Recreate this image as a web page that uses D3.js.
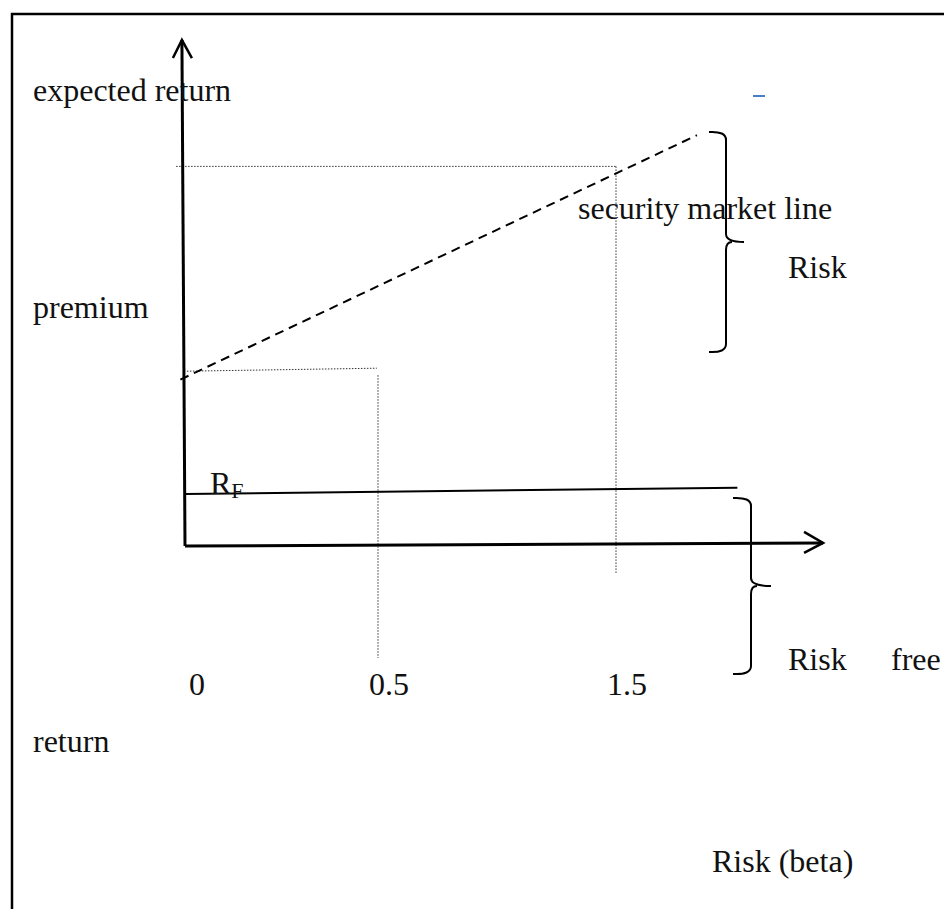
<!DOCTYPE html>
<html>
<head>
<meta charset="utf-8">
<script src="https://cdn.jsdelivr.net/npm/d3@7"></script>
<style>
  body { margin: 0; background: #fff; }
  svg { display: block; }
  text { font-family: "Liberation Serif", "Times New Roman", serif; fill: #111; }
</style>
</head>
<body>
<svg width="944" height="909"></svg>
<script>
// beta values and labels on the horizontal axis
var betas = [0, 0.5, 1.5];
var betaLabels = ["0", "0.5", "1.5"];
// expected return read at each marked beta (arbitrary units)
var returnsAtBeta = [3.4, 7.3];
var riskFree = [1.0, 1.12];        // start / end of the R_F line
var smlBeta = [-0.012, 1.84];      // dashed security market line
var smlReturn = [3.2, 7.9];
var axisEnd = { beta: 2.37, ret: 9.73 };

var svg = d3.select("svg");

// the sketch is not evenly spaced, so a piecewise scale
var x = d3.scaleLinear().domain([0, 0.5, 1.5]).range([185, 378, 616]);
var y = d3.scaleLinear().domain([0, 10]).range([546, 26]);

// page border (runs off the right and bottom of the shot)
svg.append("rect")
  .attr("x", 12).attr("y", 14)
  .attr("width", 1000).attr("height", 1000)
  .attr("fill", "none").attr("stroke", "#000").attr("stroke-width", 2.5);

var g = svg.append("g");

// dotted guide lines
function dotted(x1, y1, x2, y2) {
  g.append("line")
    .attr("x1", x1).attr("y1", y1).attr("x2", x2).attr("y2", y2)
    .attr("stroke", "#333").attr("stroke-width", 1)
    .attr("stroke-dasharray", "1.5,1.5");
}
dotted(x(-0.023), y(returnsAtBeta[1]), x(1.5), y(returnsAtBeta[1]));
dotted(x(1.5), y(returnsAtBeta[1]), x(1.5), 574);
dotted(x(0.005), y(returnsAtBeta[0]) + 2, x(0.497), y(returnsAtBeta[0]) - 1);
dotted(x(0.5), y(returnsAtBeta[0]) + 6, x(0.5), 658);

// security market line (dashed)
g.append("line")
  .attr("x1", x(smlBeta[0])).attr("y1", y(smlReturn[0]))
  .attr("x2", x(smlBeta[1])).attr("y2", y(smlReturn[1]))
  .attr("stroke", "#000").attr("stroke-width", 2)
  .attr("stroke-dasharray", "9,6");

// risk free line
g.append("line")
  .attr("x1", x(0)).attr("y1", y(riskFree[0]))
  .attr("x2", x(2.01)).attr("y2", y(riskFree[1]))
  .attr("stroke", "#000").attr("stroke-width", 2);

// axes with open arrow heads
g.append("line")
  .attr("x1", x(0)).attr("y1", y(0))
  .attr("x2", x(-0.008)).attr("y2", y(axisEnd.ret))
  .attr("stroke", "#000").attr("stroke-width", 3);
g.append("path")
  .attr("d", "M" + (x(-0.008) - 9) + "," + (y(axisEnd.ret) + 18) +
             "L" + x(-0.008) + "," + y(axisEnd.ret) +
             "L" + (x(-0.008) + 10) + "," + (y(axisEnd.ret) + 18))
  .attr("fill", "none").attr("stroke", "#000").attr("stroke-width", 2.5);

g.append("line")
  .attr("x1", x(0)).attr("y1", y(0))
  .attr("x2", x(axisEnd.beta)).attr("y2", y(0.06))
  .attr("stroke", "#000").attr("stroke-width", 3);
g.append("path")
  .attr("d", "M" + (x(axisEnd.beta) - 19) + "," + (y(0.06) - 11) +
             "L" + x(axisEnd.beta) + "," + y(0.06) +
             "L" + (x(axisEnd.beta) - 19) + "," + (y(0.06) + 10))
  .attr("fill", "none").attr("stroke", "#000").attr("stroke-width", 2.5);

// curly braces
function brace(xl, stem, tip, top, mid, bottom) {
  var p = d3.path();
  p.moveTo(xl, top);
  p.quadraticCurveTo(stem, top - 1, stem, top + 8);
  p.lineTo(stem, mid - 8);
  p.quadraticCurveTo(stem, mid, tip, mid);
  p.moveTo(stem, mid + 8);
  p.quadraticCurveTo(stem, mid, stem + 6, mid);
  p.moveTo(stem, mid + 8);
  p.lineTo(stem, bottom - 8);
  p.quadraticCurveTo(stem, bottom + 1, xl, bottom);
  g.append("path").attr("d", p.toString())
    .attr("fill", "none").attr("stroke", "#000").attr("stroke-width", 2);
}
brace(709, 726, 744, 132, 242, 352);
brace(733, 751, 771, 498, 586, 674);

// little blue mark
g.append("line")
  .attr("x1", 753).attr("y1", 96).attr("x2", 765).attr("y2", 96)
  .attr("stroke", "#4a7ec8").attr("stroke-width", 2);

// text
function label(t, tx, ty) {
  return svg.append("text").attr("x", tx).attr("y", ty)
    .attr("font-size", 32).text(t);
}
label("expected return", 33, 101);
label("security market line", 578, 219);
label("Risk", 788, 278);
label("premium", 33, 318);
label("Risk", 788, 670);
label("free", 891, 670);
label("return", 33, 752);
label("Risk (beta)", 712, 872);

var rf = svg.append("text").attr("x", 210).attr("y", 494).attr("font-size", 32);
rf.append("tspan").text("R");
rf.append("tspan").attr("font-size", 22).attr("dy", 4).text("F");

svg.selectAll(".tick-label")
  .data(betas)
  .enter().append("text")
  .attr("class", "tick-label")
  .attr("x", function(d) { return x(d) - (d === 0 ? -4 : 9); })
  .attr("y", 695)
  .attr("font-size", 32)
  .text(function(d, i) { return betaLabels[i]; });
</script>
</body>
</html>
